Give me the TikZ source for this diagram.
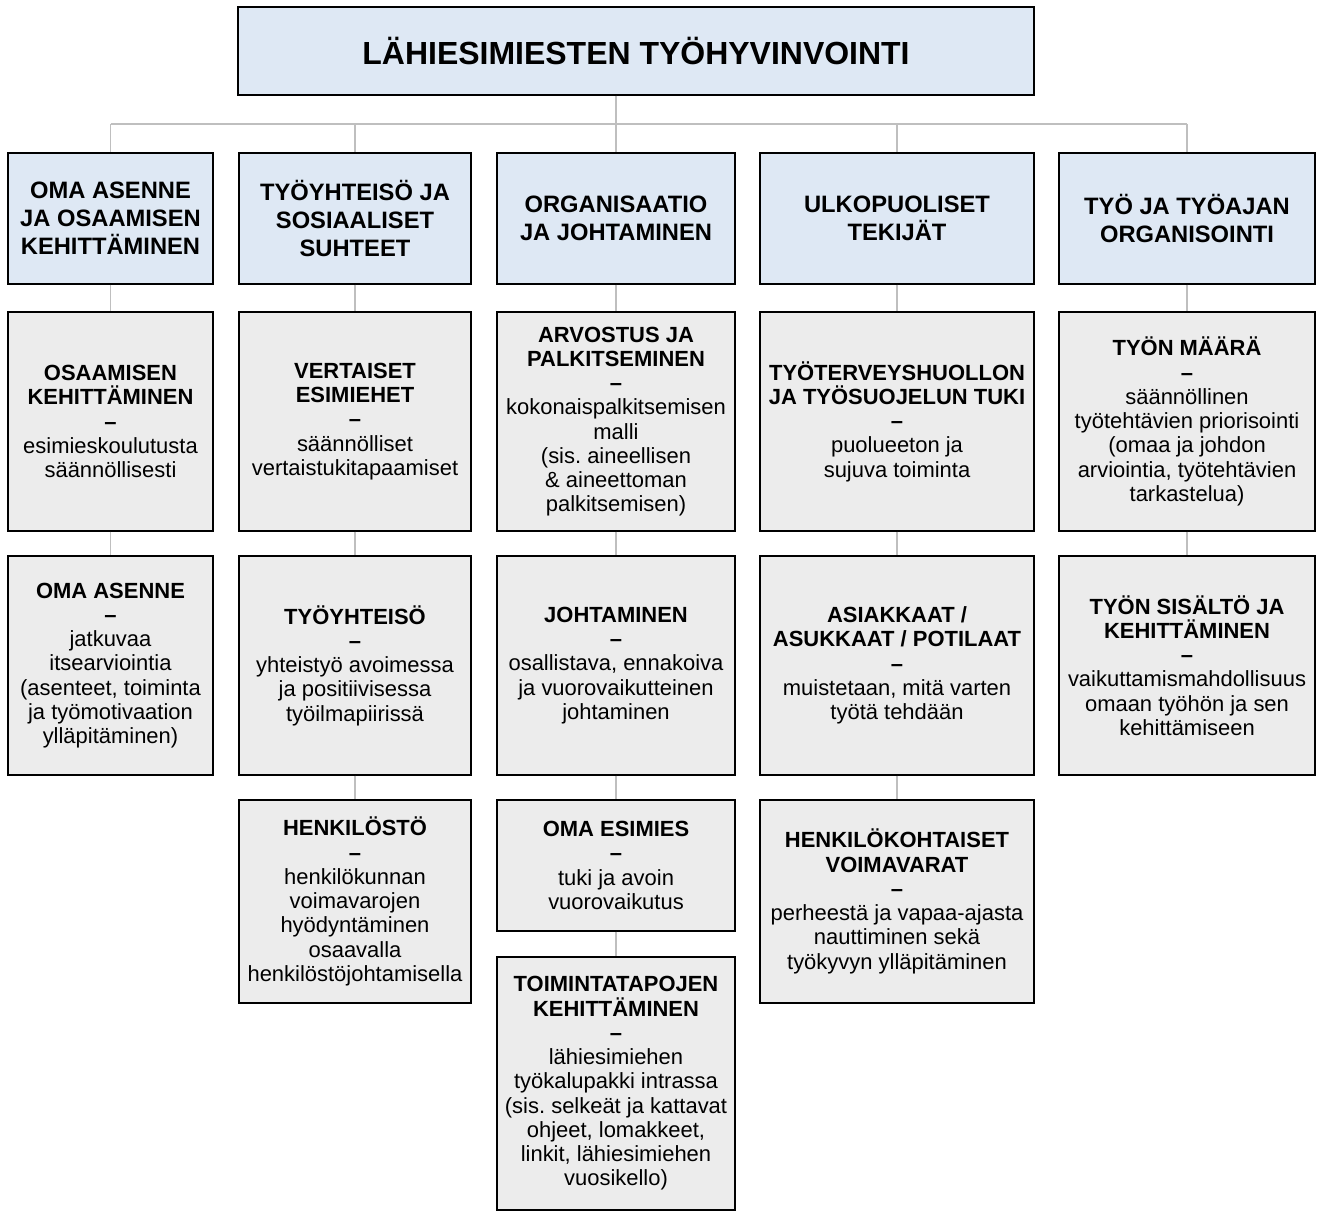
\documentclass[tikz,border=0pt]{standalone}
\usepackage{fontspec}
\setmainfont{Liberation Sans}
\frenchspacing
\usetikzlibrary{positioning,calc}
\definecolor{headfill}{HTML}{DEE8F4}
\definecolor{cellfill}{HTML}{ECECEC}
\definecolor{connline}{HTML}{BFBFBF}
\begin{document}
\begin{tikzpicture}[x=0.02cm,y=-0.02cm,
  box/.style={draw=black,line width=0.8pt,inner sep=0pt,align=center},
  topbox/.style={box,fill=headfill,minimum width=15.92cm,minimum height=1.76cm,font=\fontsize{18.2}{20}\selectfont\bfseries},
  headbox/.style={box,fill=headfill,minimum height=2.62cm,font=\fontsize{13.5}{16}\selectfont\bfseries},
  cellbox/.style={box,fill=cellfill,font=\fontsize{12.5}{13.8}\selectfont},
  conn/.style={draw=connline,line width=0.6pt}]
\useasboundingbox (0,0) rectangle (1317,1212);
% top and column heads
\node[topbox] (top) at (636,51) {LÄHIESIMIESTEN TYÖHYVINVOINTI};
\node[headbox,minimum width=4.1cm] (h1) at (110.5,218.5) {OMA ASENNE\\JA OSAAMISEN\\KEHITTÄMINEN};
\node[headbox,minimum width=4.64cm] (h2) at (355,218.5) {TYÖYHTEISÖ JA\\SOSIAALISET\\SUHTEET};
\node[headbox,minimum width=4.76cm] (h3) at (616,218.5) {ORGANISAATIO\\JA JOHTAMINEN};
\node[headbox,minimum width=5.48cm] (h4) at (897,218.5) {ULKOPUOLISET\\TEKIJÄT};
\node[headbox,minimum width=5.12cm] (h5) at (1187,218.5) {TYÖ JA TYÖAJAN\\ORGANISOINTI};
\coordinate (bus) at (0,124);
\draw[conn] (h3.north |- top.south) -- (h3.north);
\draw[conn] (h1.north |- bus) -- (h5.north |- bus);
\foreach \c in {h1,h2,h4,h5} \draw[conn] (\c.north |- bus) -- (\c.north);
% column 1
\node[cellbox,minimum width=4.1cm,minimum height=4.38cm] (a1) at (110.5,421.5) {\textbf{OSAAMISEN}\\\textbf{KEHITTÄMINEN}\\\textbf{–}\\esimieskoulutusta\\säännöllisesti};
\node[cellbox,minimum width=4.1cm,minimum height=4.38cm] (b1) at (110.5,665.5) {\textbf{OMA ASENNE}\\\textbf{–}\\jatkuvaa\\itsearviointia\\(asenteet, toiminta\\ja työmotivaation\\ylläpitäminen)};
% column 2
\node[cellbox,minimum width=4.64cm,minimum height=4.38cm] (a2) at (355,421.5) {\textbf{VERTAISET}\\\textbf{ESIMIEHET}\\\textbf{–}\\säännölliset\\vertaistukitapaamiset};
\node[cellbox,minimum width=4.64cm,minimum height=4.38cm] (b2) at (355,665.5) {\textbf{TYÖYHTEISÖ}\\\textbf{–}\\yhteistyö avoimessa\\ja positiivisessa\\työilmapiirissä};
\node[cellbox,minimum width=4.64cm,minimum height=4.06cm] (c2) at (355,901.5) {\textbf{HENKILÖSTÖ}\\\textbf{–}\\henkilökunnan\\voimavarojen\\hyödyntäminen\\osaavalla\\henkilöstöjohtamisella};
% column 3
\node[cellbox,minimum width=4.76cm,minimum height=4.38cm] (a3) at (616,421.5) {\textbf{ARVOSTUS JA}\\\textbf{PALKITSEMINEN}\\\textbf{–}\\kokonaispalkitsemisen\\malli\\(sis. aineellisen\\\& aineettoman\\palkitsemisen)};
\node[cellbox,minimum width=4.76cm,minimum height=4.38cm] (b3) at (616,665.5) {\textbf{JOHTAMINEN}\\\textbf{–}\\osallistava, ennakoiva\\ja vuorovaikutteinen\\johtaminen};
\node[cellbox,minimum width=4.76cm,minimum height=2.62cm] (c3) at (616,865.5) {\textbf{OMA ESIMIES}\\\textbf{–}\\tuki ja avoin\\vuorovaikutus};
\node[cellbox,minimum width=4.76cm,minimum height=5.06cm] (d3) at (616,1083.5) {\textbf{TOIMINTATAPOJEN}\\\textbf{KEHITTÄMINEN}\\\textbf{–}\\lähiesimiehen\\työkalupakki intrassa\\(sis. selkeät ja kattavat\\ohjeet, lomakkeet,\\linkit, lähiesimiehen\\vuosikello)};
% column 4
\node[cellbox,minimum width=5.48cm,minimum height=4.38cm] (a4) at (897,421.5) {\textbf{TYÖTERVEYSHUOLLON}\\\textbf{JA TYÖSUOJELUN TUKI}\\\textbf{–}\\puolueeton ja\\sujuva toiminta};
\node[cellbox,minimum width=5.48cm,minimum height=4.38cm] (b4) at (897,665.5) {\textbf{ASIAKKAAT /}\\\textbf{ASUKKAAT / POTILAAT}\\\textbf{–}\\muistetaan, mitä varten\\työtä tehdään};
\node[cellbox,minimum width=5.48cm,minimum height=4.06cm] (c4) at (897,901.5) {\textbf{HENKILÖKOHTAISET}\\\textbf{VOIMAVARAT}\\\textbf{–}\\perheestä ja vapaa-ajasta\\nauttiminen sekä\\työkyvyn ylläpitäminen};
% column 5
\node[cellbox,minimum width=5.12cm,minimum height=4.38cm] (a5) at (1187,421.5) {\textbf{TYÖN MÄÄRÄ}\\\textbf{–}\\säännöllinen\\työtehtävien priorisointi\\(omaa ja johdon\\arviointia, työtehtävien\\tarkastelua)};
\node[cellbox,minimum width=5.12cm,minimum height=4.38cm] (b5) at (1187,665.5) {\textbf{TYÖN SISÄLTÖ JA}\\\textbf{KEHITTÄMINEN}\\\textbf{–}\\vaikuttamismahdollisuus\\omaan työhön ja sen\\kehittämiseen};
% links down the columns
\foreach \u/\v in {h1/a1,a1/b1,h2/a2,a2/b2,b2/c2,h3/a3,a3/b3,b3/c3,c3/d3,h4/a4,a4/b4,b4/c4,h5/a5,a5/b5}
  \draw[conn] (\u.south) -- (\v.north);
\end{tikzpicture}
\end{document}
